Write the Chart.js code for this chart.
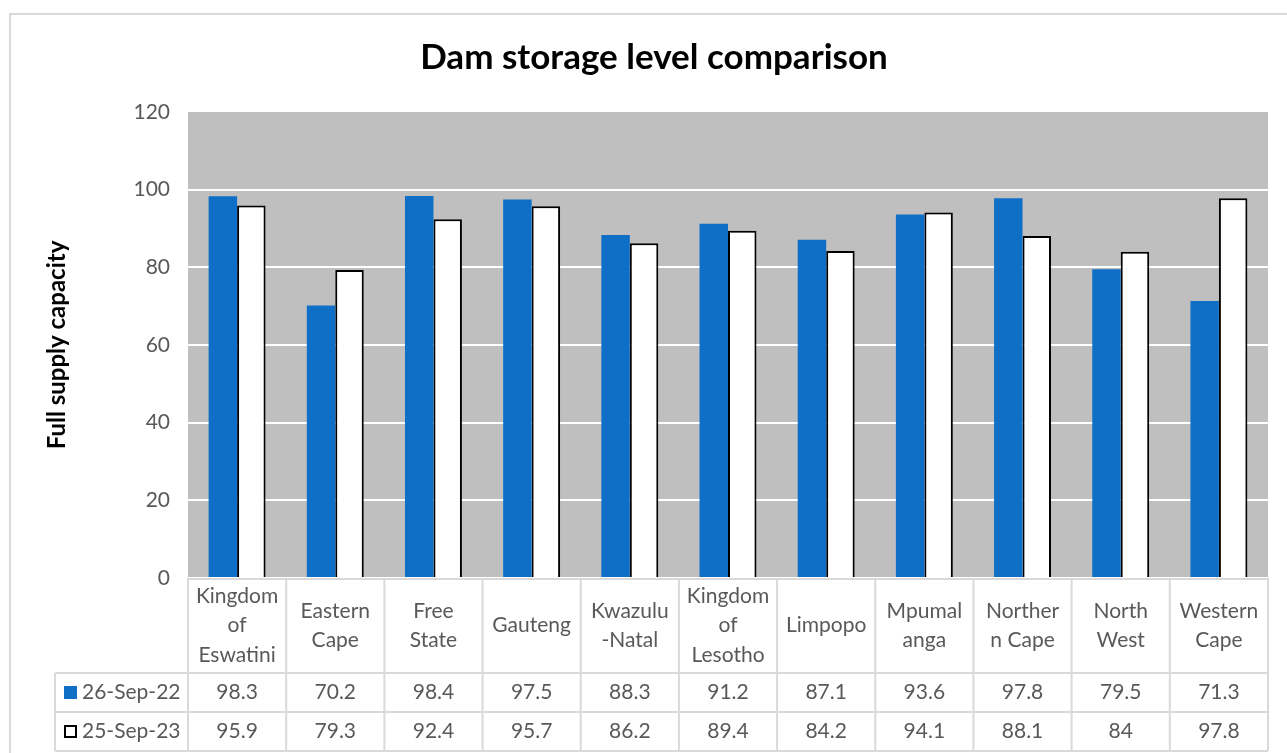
<!DOCTYPE html>
<html>
<head>
<meta charset="utf-8">
<script src="https://cdn.jsdelivr.net/npm/chart.js@4.4.0/dist/chart.umd.min.js"></script>
<style>
  html, body { margin: 0; padding: 0; background: #fff; }
  #wrap { width: 1287px; height: 753px; }
</style>
</head>
<body>
<div id="wrap"><canvas id="damChart"></canvas></div>
<script>
// table header labels, split the way the data table wraps them
const regions = [
  ["Kingdom", "of", "Eswatini"], ["Eastern", "Cape"], ["Free", "State"], ["Gauteng"],
  ["Kwazulu", "-Natal"], ["Kingdom", "of", "Lesotho"], ["Limpopo"], ["Mpumal", "anga"],
  ["Norther", "n Cape"], ["North", "West"], ["Western", "Cape"]
];
const seriesNames = ["26-Sep-22", "25-Sep-23"];
const level2022 = [98.3, 70.2, 98.4, 97.5, 88.3, 91.2, 87.1, 93.6, 97.8, 79.5, 71.3];
const level2023 = [95.9, 79.3, 92.4, 95.7, 86.2, 89.4, 84.2, 94.1, 88.1, 84, 97.8];
const yMin = 0, yMax = 120, yStep = 20;

const FONT = "Lato";
const GREY_TEXT = "#595959";
const LINE = "#d9d9d9";

const frame = {
  id: 'frame',
  beforeDraw(chart) {
    const { ctx, chartArea: a } = chart;
    ctx.save();
    ctx.strokeStyle = LINE;
    ctx.lineWidth = 2;
    ctx.strokeRect(10, 14, 1400, 800);
    ctx.fillStyle = "#bfbfbf";
    ctx.fillRect(a.left, a.top, a.right - a.left, a.bottom - a.top);
    // title
    ctx.fillStyle = "#000";
    ctx.font = `bold 35px ${FONT}`;
    ctx.textAlign = "center";
    ctx.textBaseline = "middle";
    ctx.fillText("Dam storage level comparison", 654, 58);
    ctx.restore();
  }
};

const dataTable = {
  id: 'dataTable',
  afterDraw(chart) {
    const { ctx, chartArea: a } = chart;
    const xs = chart.scales.x;
    const n = regions.length;
    const colW = (a.right - a.left) / n;
    const headH = 95, rowH = 39, keyLeft = 55;
    const top = a.bottom;
    const line = (x1, y1, x2, y2) => { ctx.beginPath(); ctx.moveTo(x1, y1); ctx.lineTo(x2, y2); ctx.stroke(); };

    ctx.save();
    ctx.strokeStyle = LINE;
    ctx.lineWidth = 2;
    line(a.left, top + 1, a.right, top + 1);
    for (let r = 0; r < 3; r++) {
      const y = top + headH + r * rowH;
      line(keyLeft, y, a.right, y);
    }
    for (let i = 0; i <= n; i++) {
      const x = xs.getPixelForValue(0) - colW / 2 + i * colW;
      line(x, top, x, top + headH + 2 * rowH);
    }
    line(keyLeft, top + headH, keyLeft, top + headH + 2 * rowH);

    ctx.fillStyle = GREY_TEXT;
    ctx.font = `21px ${FONT}`;
    ctx.textAlign = "center";
    ctx.textBaseline = "middle";
    const lh = 29.5;
    regions.forEach((lbl, i) => {
      const cx = xs.getPixelForValue(i);
      const y0 = top + headH / 2 - (lbl.length - 1) * lh / 2;
      lbl.forEach((t, k) => ctx.fillText(t, cx, y0 + k * lh));
    });

    const rows = [level2022, level2023];
    rows.forEach((vals, r) => {
      const cy = top + headH + r * rowH + rowH / 2;
      vals.forEach((v, i) => ctx.fillText(String(v), xs.getPixelForValue(i), cy));
      // legend key
      const ds = chart.data.datasets[r];
      ctx.fillStyle = ds.backgroundColor;
      ctx.fillRect(64, cy - 6.5, 13, 13);
      if (ds.borderWidth) {
        ctx.strokeStyle = ds.borderColor;
        ctx.lineWidth = 2;
        ctx.strokeRect(65, cy - 5.5, 11, 11);
      }
      ctx.fillStyle = GREY_TEXT;
      ctx.textAlign = "left";
      ctx.fillText(seriesNames[r], 82, cy);
      ctx.textAlign = "center";
    });
    ctx.restore();
  }
};

new Chart(document.getElementById("damChart"), {
  type: "bar",
  data: {
    labels: regions,
    datasets: [
      {
        label: seriesNames[0],
        data: level2022,
        backgroundColor: "#0f6fc6",
        borderWidth: 0
      },
      {
        label: seriesNames[1],
        data: level2023,
        backgroundColor: "#ffffff",
        borderColor: "#000000",
        borderWidth: 2
      }
    ]
  },
  options: {
    responsive: true,
    maintainAspectRatio: false,
    animation: false,
    datasets: { bar: { categoryPercentage: 0.58, barPercentage: 1 } },
    layout: { padding: { top: 112, left: 10, right: 19, bottom: 175 } },
    plugins: {
      legend: { display: false },
      title: { display: false },
      tooltip: { enabled: false }
    },
    scales: {
      x: { display: false },
      y: {
        min: yMin, max: yMax,
        ticks: { stepSize: yStep, color: GREY_TEXT, font: { family: FONT, size: 21 }, padding: 18 },
        grid: {
          color: c => (c.tick && c.tick.value === yMax) ? "rgba(0,0,0,0)" : "#ffffff",
          lineWidth: 2, drawTicks: false
        },
        border: { display: false },
        title: {
          display: true, text: "Full supply capacity", color: "#000",
          font: { family: FONT, size: 24, weight: "bold" }, padding: { top: 33, bottom: 0 }
        },
        afterFit(scale) { scale.width = 178; }
      }
    }
  },
  plugins: [frame, dataTable]
});
</script>
</body>
</html>
